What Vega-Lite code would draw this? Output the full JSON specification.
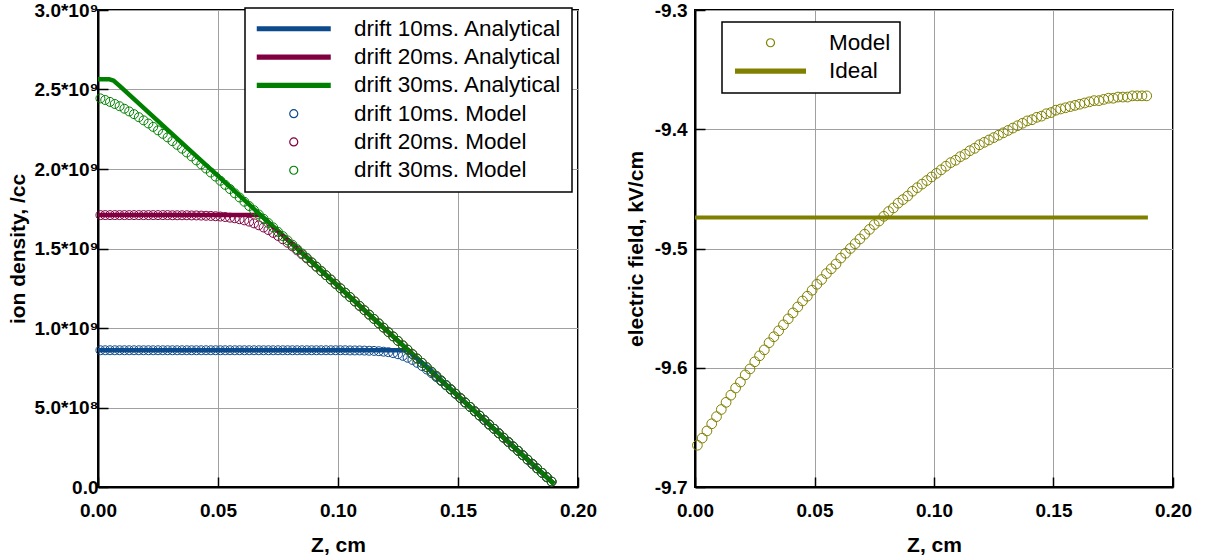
{
  "$schema": "https://vega.github.io/schema/vega-lite/v6.json",
  "padding": {"left": 6, "top": 0, "right": 5, "bottom": 0},
  "spacing": 26,
  "datasets": {
    "analytical": [
      {"z": 0, "n": 0.86e9, "series": "a10"},
      {"z": 0.1293, "n": 0.86e9, "series": "a10"},
      {"z": 0.19, "n": 0.02e9, "series": "a10"},
      {"z": 0, "n": 1.71e9, "series": "a20"},
      {"z": 0.0678, "n": 1.71e9, "series": "a20"},
      {"z": 0.19, "n": 0.02e9, "series": "a20"},
      {"z": 0, "n": 2.565e9, "series": "a30"},
      {"z": 0.0045, "n": 2.565e9, "series": "a30"},
      {"z": 0.0065, "n": 2.556e9, "series": "a30"},
      {"z": 0.009, "n": 2.523e9, "series": "a30"},
      {"z": 0.19, "n": 0.02e9, "series": "a30"}
    ],
    "model": [
      {"z":0.001,"m10":0.86e9,"m20":1.71e9,"m30":2.444e9},
      {"z":0.003,"m10":0.86e9,"m20":1.71e9,"m30":2.434e9},
      {"z":0.005,"m10":0.86e9,"m20":1.71e9,"m30":2.422e9},
      {"z":0.007,"m10":0.86e9,"m20":1.71e9,"m30":2.409e9},
      {"z":0.009,"m10":0.86e9,"m20":1.71e9,"m30":2.395e9},
      {"z":0.011,"m10":0.86e9,"m20":1.71e9,"m30":2.379e9},
      {"z":0.013,"m10":0.86e9,"m20":1.71e9,"m30":2.362e9},
      {"z":0.015,"m10":0.86e9,"m20":1.71e9,"m30":2.345e9},
      {"z":0.017,"m10":0.86e9,"m20":1.71e9,"m30":2.326e9},
      {"z":0.019,"m10":0.86e9,"m20":1.71e9,"m30":2.306e9},
      {"z":0.021,"m10":0.86e9,"m20":1.71e9,"m30":2.286e9},
      {"z":0.023,"m10":0.86e9,"m20":1.71e9,"m30":2.265e9},
      {"z":0.025,"m10":0.86e9,"m20":1.71e9,"m30":2.243e9},
      {"z":0.027,"m10":0.86e9,"m20":1.71e9,"m30":2.221e9},
      {"z":0.029,"m10":0.86e9,"m20":1.71e9,"m30":2.199e9},
      {"z":0.031,"m10":0.86e9,"m20":1.709e9,"m30":2.175e9},
      {"z":0.033,"m10":0.86e9,"m20":1.709e9,"m30":2.152e9},
      {"z":0.035,"m10":0.86e9,"m20":1.709e9,"m30":2.128e9},
      {"z":0.037,"m10":0.86e9,"m20":1.709e9,"m30":2.104e9},
      {"z":0.039,"m10":0.86e9,"m20":1.708e9,"m30":2.079e9},
      {"z":0.041,"m10":0.86e9,"m20":1.708e9,"m30":2.054e9},
      {"z":0.043,"m10":0.86e9,"m20":1.707e9,"m30":2.029e9},
      {"z":0.045,"m10":0.86e9,"m20":1.706e9,"m30":2.003e9},
      {"z":0.047,"m10":0.86e9,"m20":1.705e9,"m30":1.978e9},
      {"z":0.049,"m10":0.86e9,"m20":1.703e9,"m30":1.952e9},
      {"z":0.051,"m10":0.86e9,"m20":1.701e9,"m30":1.926e9},
      {"z":0.053,"m10":0.86e9,"m20":1.698e9,"m30":1.900e9},
      {"z":0.055,"m10":0.86e9,"m20":1.694e9,"m30":1.874e9},
      {"z":0.057,"m10":0.86e9,"m20":1.690e9,"m30":1.847e9},
      {"z":0.059,"m10":0.86e9,"m20":1.684e9,"m30":1.821e9},
      {"z":0.061,"m10":0.86e9,"m20":1.677e9,"m30":1.794e9},
      {"z":0.063,"m10":0.86e9,"m20":1.669e9,"m30":1.767e9},
      {"z":0.065,"m10":0.86e9,"m20":1.658e9,"m30":1.741e9},
      {"z":0.067,"m10":0.86e9,"m20":1.646e9,"m30":1.714e9},
      {"z":0.069,"m10":0.86e9,"m20":1.632e9,"m30":1.687e9},
      {"z":0.071,"m10":0.86e9,"m20":1.616e9,"m30":1.660e9},
      {"z":0.073,"m10":0.86e9,"m20":1.598e9,"m30":1.633e9},
      {"z":0.075,"m10":0.86e9,"m20":1.579e9,"m30":1.605e9},
      {"z":0.077,"m10":0.86e9,"m20":1.558e9,"m30":1.578e9},
      {"z":0.079,"m10":0.86e9,"m20":1.536e9,"m30":1.551e9},
      {"z":0.081,"m10":0.86e9,"m20":1.513e9,"m30":1.524e9},
      {"z":0.083,"m10":0.86e9,"m20":1.488e9,"m30":1.496e9},
      {"z":0.085,"m10":0.86e9,"m20":1.463e9,"m30":1.469e9},
      {"z":0.087,"m10":0.86e9,"m20":1.438e9,"m30":1.442e9},
      {"z":0.089,"m10":0.86e9,"m20":1.412e9,"m30":1.414e9},
      {"z":0.091,"m10":0.86e9,"m20":1.385e9,"m30":1.387e9},
      {"z":0.093,"m10":0.86e9,"m20":1.358e9,"m30":1.359e9},
      {"z":0.095,"m10":0.86e9,"m20":1.332e9,"m30":1.332e9},
      {"z":0.097,"m10":0.86e9,"m20":1.305e9,"m30":1.305e9},
      {"z":0.099,"m10":0.86e9,"m20":1.277e9,"m30":1.277e9},
      {"z":0.101,"m10":0.86e9,"m20":1.250e9,"m30":1.250e9},
      {"z":0.103,"m10":0.86e9,"m20":1.222e9,"m30":1.222e9},
      {"z":0.105,"m10":0.859e9,"m20":1.195e9,"m30":1.195e9},
      {"z":0.107,"m10":0.859e9,"m20":1.167e9,"m30":1.167e9},
      {"z":0.109,"m10":0.859e9,"m20":1.139e9,"m30":1.139e9},
      {"z":0.111,"m10":0.858e9,"m20":1.112e9,"m30":1.112e9},
      {"z":0.113,"m10":0.857e9,"m20":1.084e9,"m30":1.084e9},
      {"z":0.115,"m10":0.856e9,"m20":1.057e9,"m30":1.057e9},
      {"z":0.117,"m10":0.854e9,"m20":1.029e9,"m30":1.029e9},
      {"z":0.119,"m10":0.851e9,"m20":1.002e9,"m30":1.002e9},
      {"z":0.121,"m10":0.848e9,"m20":0.974e9,"m30":0.974e9},
      {"z":0.123,"m10":0.842e9,"m20":0.947e9,"m30":0.947e9},
      {"z":0.125,"m10":0.835e9,"m20":0.919e9,"m30":0.919e9},
      {"z":0.127,"m10":0.825e9,"m20":0.891e9,"m30":0.891e9},
      {"z":0.129,"m10":0.813e9,"m20":0.864e9,"m30":0.864e9},
      {"z":0.131,"m10":0.799e9,"m20":0.836e9,"m30":0.836e9},
      {"z":0.133,"m10":0.781e9,"m20":0.808e9,"m30":0.808e9},
      {"z":0.135,"m10":0.761e9,"m20":0.781e9,"m30":0.781e9},
      {"z":0.137,"m10":0.739e9,"m20":0.753e9,"m30":0.753e9},
      {"z":0.139,"m10":0.716e9,"m20":0.725e9,"m30":0.725e9},
      {"z":0.141,"m10":0.691e9,"m20":0.698e9,"m30":0.698e9},
      {"z":0.143,"m10":0.666e9,"m20":0.670e9,"m30":0.670e9},
      {"z":0.145,"m10":0.639e9,"m20":0.642e9,"m30":0.642e9},
      {"z":0.147,"m10":0.613e9,"m20":0.615e9,"m30":0.615e9},
      {"z":0.149,"m10":0.586e9,"m20":0.587e9,"m30":0.587e9},
      {"z":0.151,"m10":0.559e9,"m20":0.559e9,"m30":0.559e9},
      {"z":0.153,"m10":0.531e9,"m20":0.532e9,"m30":0.532e9},
      {"z":0.155,"m10":0.504e9,"m20":0.504e9,"m30":0.504e9},
      {"z":0.157,"m10":0.476e9,"m20":0.476e9,"m30":0.476e9},
      {"z":0.159,"m10":0.449e9,"m20":0.449e9,"m30":0.449e9},
      {"z":0.161,"m10":0.421e9,"m20":0.421e9,"m30":0.421e9},
      {"z":0.163,"m10":0.393e9,"m20":0.393e9,"m30":0.393e9},
      {"z":0.165,"m10":0.366e9,"m20":0.366e9,"m30":0.366e9},
      {"z":0.167,"m10":0.338e9,"m20":0.338e9,"m30":0.338e9},
      {"z":0.169,"m10":0.310e9,"m20":0.310e9,"m30":0.310e9},
      {"z":0.171,"m10":0.283e9,"m20":0.283e9,"m30":0.283e9},
      {"z":0.173,"m10":0.255e9,"m20":0.255e9,"m30":0.255e9},
      {"z":0.175,"m10":0.228e9,"m20":0.228e9,"m30":0.228e9},
      {"z":0.177,"m10":0.200e9,"m20":0.200e9,"m30":0.200e9},
      {"z":0.179,"m10":0.172e9,"m20":0.172e9,"m30":0.172e9},
      {"z":0.181,"m10":0.145e9,"m20":0.145e9,"m30":0.145e9},
      {"z":0.183,"m10":0.117e9,"m20":0.117e9,"m30":0.117e9},
      {"z":0.185,"m10":0.089e9,"m20":0.089e9,"m30":0.089e9},
      {"z":0.187,"m10":0.062e9,"m20":0.062e9,"m30":0.062e9},
      {"z":0.189,"m10":0.034e9,"m20":0.034e9,"m30":0.034e9}
    ],
    "field": [
      {"z":0.001,"Model":-9.665},{"z":0.003,"Model":-9.659},{"z":0.005,"Model":-9.653},{"z":0.007,"Model":-9.647},
      {"z":0.009,"Model":-9.641},{"z":0.011,"Model":-9.635},{"z":0.013,"Model":-9.629},{"z":0.015,"Model":-9.623},
      {"z":0.017,"Model":-9.617},{"z":0.019,"Model":-9.612},{"z":0.021,"Model":-9.606},{"z":0.023,"Model":-9.601},
      {"z":0.025,"Model":-9.595},{"z":0.027,"Model":-9.590},{"z":0.029,"Model":-9.585},{"z":0.031,"Model":-9.579},
      {"z":0.033,"Model":-9.574},{"z":0.035,"Model":-9.569},{"z":0.037,"Model":-9.564},{"z":0.039,"Model":-9.559},
      {"z":0.041,"Model":-9.554},{"z":0.043,"Model":-9.549},{"z":0.045,"Model":-9.544},{"z":0.047,"Model":-9.540},
      {"z":0.049,"Model":-9.535},{"z":0.051,"Model":-9.530},{"z":0.053,"Model":-9.526},{"z":0.055,"Model":-9.521},
      {"z":0.057,"Model":-9.517},{"z":0.059,"Model":-9.513},{"z":0.061,"Model":-9.508},{"z":0.063,"Model":-9.504},
      {"z":0.065,"Model":-9.500},{"z":0.067,"Model":-9.496},{"z":0.069,"Model":-9.492},{"z":0.071,"Model":-9.488},
      {"z":0.073,"Model":-9.484},{"z":0.075,"Model":-9.480},{"z":0.077,"Model":-9.477},{"z":0.079,"Model":-9.473},
      {"z":0.081,"Model":-9.469},{"z":0.083,"Model":-9.466},{"z":0.085,"Model":-9.462},{"z":0.087,"Model":-9.459},
      {"z":0.089,"Model":-9.456},{"z":0.091,"Model":-9.452},{"z":0.093,"Model":-9.449},{"z":0.095,"Model":-9.446},
      {"z":0.097,"Model":-9.443},{"z":0.099,"Model":-9.440},{"z":0.101,"Model":-9.437},{"z":0.103,"Model":-9.434},
      {"z":0.105,"Model":-9.431},{"z":0.107,"Model":-9.428},{"z":0.109,"Model":-9.426},{"z":0.111,"Model":-9.423},
      {"z":0.113,"Model":-9.421},{"z":0.115,"Model":-9.418},{"z":0.117,"Model":-9.416},{"z":0.119,"Model":-9.413},
      {"z":0.121,"Model":-9.411},{"z":0.123,"Model":-9.409},{"z":0.125,"Model":-9.407},{"z":0.127,"Model":-9.405},
      {"z":0.129,"Model":-9.403},{"z":0.131,"Model":-9.401},{"z":0.133,"Model":-9.399},{"z":0.135,"Model":-9.397},
      {"z":0.137,"Model":-9.395},{"z":0.139,"Model":-9.393},{"z":0.141,"Model":-9.392},{"z":0.143,"Model":-9.390},
      {"z":0.145,"Model":-9.389},{"z":0.147,"Model":-9.387},{"z":0.149,"Model":-9.386},{"z":0.151,"Model":-9.384},
      {"z":0.153,"Model":-9.383},{"z":0.155,"Model":-9.382},{"z":0.157,"Model":-9.381},{"z":0.159,"Model":-9.380},
      {"z":0.161,"Model":-9.379},{"z":0.163,"Model":-9.378},{"z":0.165,"Model":-9.377},{"z":0.167,"Model":-9.376},
      {"z":0.169,"Model":-9.376},{"z":0.171,"Model":-9.375},{"z":0.173,"Model":-9.374},{"z":0.175,"Model":-9.374},
      {"z":0.177,"Model":-9.373},{"z":0.179,"Model":-9.373},{"z":0.181,"Model":-9.373},{"z":0.183,"Model":-9.372},
      {"z":0.185,"Model":-9.372},{"z":0.187,"Model":-9.372},{"z":0.189,"Model":-9.372}
    ],
    "ideal": [
      {"z": 0, "Ideal": -9.474},
      {"z": 0.1895, "Ideal": -9.474}
    ]
  },
  "hconcat": [
    {
      "width": 480,
      "height": 477,
      "layer": [
        {
          "data": {"name": "analytical"},
          "mark": {"type": "line", "strokeWidth": 4.5, "strokeCap": "butt", "strokeJoin": "round"},
          "encoding": {
            "x": {"field": "z", "type": "quantitative", "title": "Z, cm",
                  "scale": {"domain": [0, 0.2], "nice": false},
                  "axis": {"values": [0, 0.05, 0.1, 0.15, 0.2], "format": ".2f"}},
            "y": {"field": "n", "type": "quantitative", "title": "ion density, /cc",
                  "scale": {"domain": [0, 3e9], "nice": false},
                  "axis": {"values": [0, 5e8, 1e9, 1.5e9, 2e9, 2.5e9, 3e9], "labelPadding": 10, "titlePadding": 6,
                           "labelExpr": "datum.value == 0 ? '0.0' : (datum.value < 1e9 ? format(datum.value/1e8, '.1f') + '*10⁸' : format(datum.value/1e9, '.1f') + '*10⁹')"}},
            "color": {"field": "series", "type": "nominal",
                      "scale": {"domain": ["a10", "a20", "a30", "m10", "m20", "m30"],
                                "range": ["#0c4a8c", "#800040", "#008000", "#0c4a8c", "#800040", "#008000"]},
                      "legend": {
                        "title": null, "orient": "none", "legendX": 147, "legendY": -2,
                        "symbolOffset": 28, "labelOffset": 49,
                        "labelExpr": "datum.value == 'a10' ? 'drift 10ms. Analytical' : datum.value == 'a20' ? 'drift 20ms. Analytical' : datum.value == 'a30' ? 'drift 30ms. Analytical' : datum.value == 'm10' ? 'drift 10ms. Model' : datum.value == 'm20' ? 'drift 20ms. Model' : 'drift 30ms. Model'"
                      }}
          }
        },
        {
          "data": {"name": "model"},
          "transform": [{"fold": ["m10", "m20", "m30"], "as": ["series", "n"]}],
          "mark": {"type": "point", "filled": false, "size": 80, "strokeWidth": 1, "opacity": 1},
          "encoding": {
            "x": {"field": "z", "type": "quantitative"},
            "y": {"field": "n", "type": "quantitative"},
            "color": {"field": "series", "type": "nominal"},
            "shape": {"field": "series", "type": "nominal",
                      "scale": {"domain": ["a10", "a20", "a30", "m10", "m20", "m30"],
                                "range": ["M-9.25,-0.5H9.25M-9.25,-0.25H9.25M-9.25,0H9.25M-9.25,0.25H9.25M-9.25,0.5H9.25",
                                          "M-9.25,-0.5H9.25M-9.25,-0.25H9.25M-9.25,0H9.25M-9.25,0.25H9.25M-9.25,0.5H9.25",
                                          "M-9.25,-0.5H9.25M-9.25,-0.25H9.25M-9.25,0H9.25M-9.25,0.25H9.25M-9.25,0.5H9.25",
                                          "circle", "circle", "circle"]},
                      "legend": {
                        "title": null, "orient": "none", "legendX": 147, "legendY": -2,
                        "symbolOffset": 28, "labelOffset": 49,
                        "labelExpr": "datum.value == 'a10' ? 'drift 10ms. Analytical' : datum.value == 'a20' ? 'drift 20ms. Analytical' : datum.value == 'a30' ? 'drift 30ms. Analytical' : datum.value == 'm10' ? 'drift 10ms. Model' : datum.value == 'm20' ? 'drift 20ms. Model' : 'drift 30ms. Model'"
                      }}
          }
        }
      ]
    },
    {
      "width": 478,
      "height": 477,
      "layer": [
        {
          "data": {"name": "ideal"},
          "transform": [{"fold": ["Ideal"], "as": ["series", "E"]}],
          "mark": {"type": "line", "strokeWidth": 4, "strokeCap": "butt"},
          "encoding": {
            "x": {"field": "z", "type": "quantitative", "title": "Z, cm",
                  "scale": {"domain": [0, 0.2], "nice": false},
                  "axis": {"values": [0, 0.05, 0.1, 0.15, 0.2], "format": ".2f"}},
            "y": {"field": "E", "type": "quantitative", "title": "electric field, kV/cm",
                  "scale": {"domain": [-9.7, -9.3], "nice": false, "zero": false},
                  "axis": {"values": [-9.7, -9.6, -9.5, -9.4, -9.3], "labelPadding": 18,
                           "labelExpr": "'-' + format(-datum.value, '.1f')", "titlePadding": 8}},
            "color": {"field": "series", "type": "nominal",
                      "scale": {"domain": ["Model", "Ideal"], "range": ["#808000", "#808000"]},
                      "legend": {"title": null, "orient": "none", "legendX": 27, "legendY": 12,
                                 "symbolOffset": 27.75, "labelOffset": 47.25}}
          }
        },
        {
          "data": {"name": "field"},
          "transform": [{"fold": ["Model"], "as": ["series", "E"]}],
          "mark": {"type": "point", "filled": false, "size": 95, "strokeWidth": 1, "opacity": 1},
          "encoding": {
            "x": {"field": "z", "type": "quantitative"},
            "y": {"field": "E", "type": "quantitative"},
            "color": {"field": "series", "type": "nominal"},
            "shape": {"field": "series", "type": "nominal",
                      "scale": {"domain": ["Model", "Ideal"],
                                "range": ["circle", "M-8.875,-0.5H8.875M-8.875,-0.25H8.875M-8.875,0H8.875M-8.875,0.25H8.875M-8.875,0.5H8.875"]},
                      "legend": {"title": null, "orient": "none", "legendX": 27, "legendY": 12,
                                 "symbolOffset": 27.75, "labelOffset": 47.25}}
          }
        }
      ]
    }
  ],
  "resolve": {"scale": {"color": "independent", "shape": "independent", "x": "independent", "y": "independent"},
              "legend": {"color": "independent", "shape": "independent"}},
  "config": {
    "font": "Liberation Sans",
    "background": "white",
    "view": {"stroke": "#000000", "strokeWidth": 2},
    "axis": {
      "labelFont": "Liberation Sans", "labelFontSize": 19, "labelFontWeight": "bold", "labelColor": "#000000",
      "titleFont": "Liberation Sans", "titleFontSize": 21, "titleFontWeight": "bold", "titleColor": "#000000",
      "domainColor": "#000000", "domainWidth": 2,
      "tickColor": "#000000", "tickWidth": 1.5, "tickSize": -10,
      "gridColor": "#a0a0a0", "gridWidth": 1,
      "labelFlush": false, "labelOverlap": false
    },
    "axisX": {"labelPadding": 24, "titlePadding": 14},
    "legend": {
      "labelFont": "Liberation Sans", "labelFontSize": 22.5, "labelColor": "#000000", "labelLimit": 400,
      "strokeColor": "#000000", "strokeWidth": 1.5, "fillColor": "#ffffff",
      "padding": 9.5, "rowPadding": 5.3, "symbolSize": 64, "symbolStrokeWidth": 1.2
    }
  }
}
